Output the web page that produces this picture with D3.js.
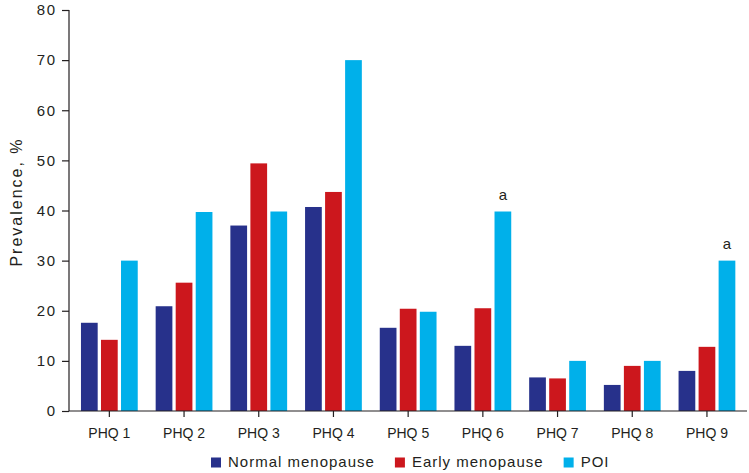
<!DOCTYPE html>
<html>
<head>
<meta charset="utf-8">
<script src="https://cdn.jsdelivr.net/npm/d3@7"></script>
<style>
  html, body { margin: 0; padding: 0; background: #fff; }
  svg { display: block; font-family: "Liberation Sans", Arial, Helvetica, sans-serif; }
</style>
</head>
<body>
<svg id="chart" width="749" height="473"></svg>
<script>
// ---- data ----
const categories = ["PHQ 1", "PHQ 2", "PHQ 3", "PHQ 4", "PHQ 5", "PHQ 6", "PHQ 7", "PHQ 8", "PHQ 9"];
const seriesNames = ["Normal menopause", "Early menopause", "POI"];
const normalMenopause = [17.6, 20.9, 37.0, 40.7, 16.6, 13.0, 6.7, 5.2, 8.0];
const earlyMenopause  = [14.2, 25.6, 49.4, 43.7, 20.4, 20.5, 6.5, 9.0, 12.8];
const poi             = [30.0, 39.7, 39.8, 70.0, 19.8, 39.8, 10.0, 10.0, 30.0];
const annotations     = ["", "", "", "", "", "a", "", "", "a"]; // over POI bars
const yTicks = [0, 10, 20, 30, 40, 50, 60, 70, 80];
const colors = ["#27318b", "#cc171d", "#00b0ea"];

const seriesValues = [normalMenopause, earlyMenopause, poi];

// ---- layout ----
const svg = d3.select("#chart");
const axisColor = "#231f20";
const textColor = "#231f20";
const x0Left = 69, x0Right = 747, yTop = 10, yBase = 411;

const y = d3.scaleLinear().domain([0, 80]).range([yBase, yTop]);
const x = d3.scaleBand().domain(categories).range([72, 744.3]).paddingInner(0.24).paddingOuter(0.12);
const xs = d3.scaleBand().domain(seriesNames).range([0, x.bandwidth()]).paddingInner(0.165).paddingOuter(0);
const color = d3.scaleOrdinal().domain(seriesNames).range(colors);

// bars
const rows = categories.map((c, i) => ({ cat: c, vals: seriesNames.map((s, j) => ({ s, v: seriesValues[j][i] })) }));
const groups = svg.append("g").selectAll("g").data(rows).join("g")
  .attr("transform", d => `translate(${x(d.cat)},0)`);
groups.selectAll("rect").data(d => d.vals).join("rect")
  .attr("x", d => xs(d.s))
  .attr("width", xs.bandwidth())
  .attr("y", d => y(d.v))
  .attr("height", d => y(0) - y(d.v))
  .attr("fill", d => color(d.s));

// annotations
svg.append("g").selectAll("text").data(categories.map((c, i) => ({ c, a: annotations[i], v: poi[i] })).filter(d => d.a))
  .join("text")
  .attr("x", d => x(d.c) + xs("POI") + xs.bandwidth() / 2)
  .attr("y", d => y(d.v) - 12)
  .attr("text-anchor", "middle")
  .attr("font-size", 15)
  .attr("fill", textColor)
  .text(d => d.a);

// y axis
const yAxis = svg.append("g").attr("transform", `translate(${x0Left},0)`)
  .call(d3.axisLeft(y).tickValues(yTicks).tickSize(7).tickPadding(5.5));
yAxis.select(".domain").remove();
yAxis.selectAll("line").attr("stroke", axisColor).attr("stroke-width", 1.2);
yAxis.selectAll("text").attr("font-size", 15).attr("fill", textColor)
  .attr("font-family", "Liberation Sans, Arial, sans-serif").style("letter-spacing", "1.5px");
svg.append("line").attr("x1", x0Left).attr("x2", x0Left).attr("y1", y(80)).attr("y2", yBase)
  .attr("stroke", axisColor).attr("stroke-width", 1.2);

// x axis
const xAxis = svg.append("g").attr("transform", `translate(0,${yBase})`)
  .call(d3.axisBottom(x).tickSize(6).tickPadding(11.4));
xAxis.select(".domain").remove();
xAxis.selectAll("line").attr("stroke", axisColor).attr("stroke-width", 1.2);
xAxis.selectAll("text").attr("font-size", 14).attr("fill", textColor)
  .attr("font-family", "Liberation Sans, Arial, sans-serif");
svg.append("line").attr("x1", x0Left).attr("x2", x0Right).attr("y1", yBase).attr("y2", yBase)
  .attr("stroke", axisColor).attr("stroke-width", 1.2);

// y label
svg.append("text")
  .attr("transform", "translate(21.5,202) rotate(-90)")
  .attr("text-anchor", "middle")
  .attr("font-size", 16)
  .attr("fill", textColor)
  .style("letter-spacing", "2px")
  .text("Prevalence, %");

// legend
const legend = svg.append("g");
let lx = 211;
seriesNames.forEach((s, i) => {
  legend.append("rect").attr("x", lx).attr("y", 457.5).attr("width", 10).attr("height", 10).attr("fill", color(s));
  const t = legend.append("text").attr("x", lx + 17).attr("y", 466.7)
    .attr("font-size", 15).attr("fill", textColor).style("letter-spacing", "1px").text(s);
  lx += 17 + t.node().getComputedTextLength() + 20;
});
</script>
</body>
</html>
